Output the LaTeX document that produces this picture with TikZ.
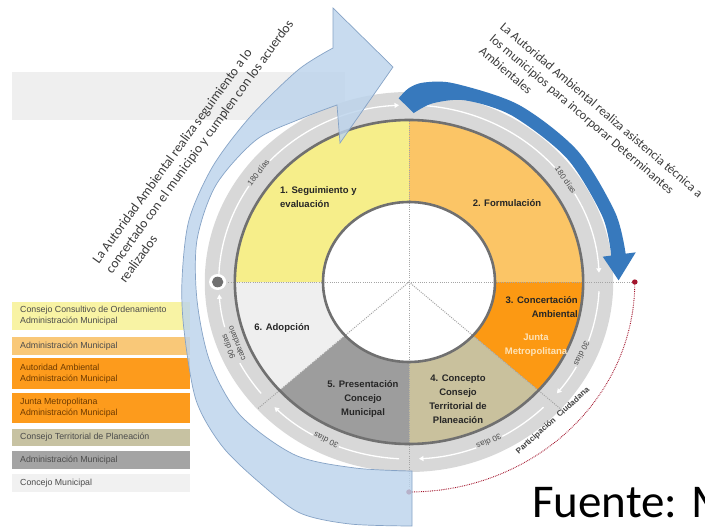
\documentclass[tikz,border=0pt]{standalone}
\usepackage{fontspec}
\setmainfont{Liberation Sans}
\newfontfamily\calfont{Carlito}
\usetikzlibrary{arrows.meta}
\definecolor{bandgray}{HTML}{D8D8D8}
\definecolor{ringline}{HTML}{707070}
\definecolor{dotgray}{HTML}{A5A5A5}
\definecolor{segA}{HTML}{F6EE8A}
\definecolor{segB}{HTML}{FBC566}
\definecolor{segC}{HTML}{FC9913}
\definecolor{segD}{HTML}{C9C19D}
\definecolor{segE}{HTML}{9D9D9D}
\definecolor{segF}{HTML}{EFEFEF}
\definecolor{legA}{HTML}{F8F3A4}
\definecolor{legB}{HTML}{F9C878}
\definecolor{legC}{HTML}{FD9B1C}
\definecolor{legE}{HTML}{C7C2A2}
\definecolor{legF}{HTML}{A4A4A4}
\definecolor{legG}{HTML}{F1F1F1}
\definecolor{topgray}{HTML}{EFEFEF}
\definecolor{paleblue}{HTML}{BCD4EC}
\definecolor{paleedge}{HTML}{86A3C6}
\definecolor{deepblue}{HTML}{3779BD}
\definecolor{dotred}{HTML}{A3142C}
\definecolor{txtgray}{HTML}{3C3C3C}
\definecolor{legtext}{HTML}{4B4B4B}
\definecolor{legdark}{HTML}{6E3A00}
\definecolor{juntatxt}{HTML}{FDE3B8}
\tikzset{>=stealth,
  phase/.style={font=\bfseries\fontsize{9.5}{14}\selectfont, text=black!85, align=center, inner sep=0pt},
  days/.style={font=\fontsize{8}{9}\selectfont, text=black!70, fill=bandgray, inner sep=1pt, align=center},
  legtxt/.style={font=\fontsize{8.8}{11}\selectfont, align=left, inner sep=0pt, anchor=west},
  sidetxt/.style={font=\calfont\fontsize{13.5}{16.5}\selectfont, text=txtgray, align=left, inner sep=0pt, anchor=north west},
  wline/.style={white, line width=1.3pt, -{Triangle[length=4.5pt,width=5pt]}},
  dotln/.style={dotgray, line width=1pt, dash pattern=on 1pt off 1.2pt}
}

\begin{document}
\begin{tikzpicture}[x=1pt,y=1pt]
\useasboundingbox (0,0) rectangle (705,-532);
\fill[white] (0,0) rectangle (705,-532);
\fill[topgray] (12,-72) rectangle (345,-120);

\foreach \yt/\yb/\col/\tc/\txt [count=\i] in {
  302/330/legA/legtext/Consejo Consultivo de Ordenamiento\\Administración Municipal,
  337/355/legB/legtext/Administración Municipal,
  358/389/legC/legdark/Autoridad Ambiental\\Administración Municipal,
  393/423/legC/legdark/Junta Metropolitana\\Administración Municipal,
  429/446/legE/legtext/Consejo Territorial de Planeación,
  451/469/legF/legtext/Administración Municipal,
  474/492/legG/legtext/Concejo Municipal}
{
  \fill[\col] (12,-\yt) rectangle (190,-\yb);
  \node[legtxt, text=\tc] (leg\i) at (20,{-(\yt+\yb)/2}) {\txt};
}

\begin{scope}[shift={(409,-282)}, xscale=1.075]
  \fill[bandgray] (0,0) circle (190);
  \foreach \a/\b/\col in {90/180/segA, 0/90/segB, -42/0/segC, -90/-42/segD, -138/-90/segE, -180/-138/segF}
    \fill[\col] (0,0) -- (\a:162) arc[start angle=\a, end angle=\b, radius=162] -- cycle;
  \foreach \a/\b in {178/93, 87/3, -3/-39, -45/-87, -93/-135, -141/-176}
    \draw[wline] (\a:177) arc[start angle=\a, end angle=\b, radius=177];
  \fill[white] (0,0) circle (80);
  \draw[dotln] (180:168) -- (0:210);
  \draw[dotln] (90:163) -- (-90:208);
  \draw[dotln] (0,0) -- (-42:190);
  \draw[dotln] (0,0) -- (-138:190);
  \draw[ringline, line width=2.6pt] (0,0) circle (162);
  \draw[ringline, line width=2.6pt] (0,0) circle (80);
  \fill[white] (180:178) circle (8);
  \fill[ringline] (180:178) circle (5.3);

  \node[days, rotate=52] (d1) at (142:178) {180 días};
  \node[days, rotate=-55] (d2) at (35:178) {180 días};
  \node[days, rotate=-115] (d3) at (-24:176) {30 días};
  \node[days, rotate=-155] (d4) at (-65:176) {30 días};
  \node[days, rotate=154] (d5) at (-116:176) {30 días};
  \node[days, rotate=111] (d6) at (-159:176) {90 días\\calendario};

  \coordinate (pcA) at (0:210);
  \coordinate (pcB) at (-90:210);
  \draw[dotred, line width=0.9pt, dash pattern=on 0.8pt off 1pt] (pcA) arc[start angle=0, end angle=-90, radius=210];
  \fill[dotred] (pcA) circle (2.6);
  \fill[dotred] (pcB) circle (2.6);

  \fill[deepblue] plot[smooth] coordinates {(93:184) (90:194) (86:200) (78:203) (60:204.5) (40:204.5) (20:204) (8:203.5)}
    -- (8:213) -- (0.5:195) -- (8:182) -- (8:190)
    -- plot[smooth] coordinates {(8:190) (20:191.5) (40:192) (60:192) (74:189) (83:180) (88.5:169)} -- cycle;
\end{scope}

\node[phase, align=left, anchor=west] (p1) at (280,-197) {1. Seguimiento y\\evaluación};
\node[phase] (p2) at (507,-203) {2. Formulación};
\node[phase, align=right, anchor=east] (p3) at (578,-307) {3. Concertación\\Ambiental};
\node[phase, text=juntatxt] (p3b) at (536,-345) {Junta\\Metropolitana};
\node[phase] (p4) at (458,-399) {4. Concepto\\Consejo\\Territorial de\\Planeación};
\node[phase] (p5) at (363,-399) {5. Presentación\\Concejo\\Municipal};
\node[phase] (p6) at (282,-328) {6. Adopción};

\node[font=\bfseries\fontsize{8}{9}\selectfont, text=black!75, rotate=42, inner sep=0pt] (pc) at (553,-421) {Participación\ \ Ciudadana};

\filldraw[fill=paleblue, fill opacity=0.82, draw=paleedge, line width=0.7pt]
  plot[smooth] coordinates {(412,-526) (350,-524) (300,-513) (260,-483) (222,-446) (196,-400) (184,-330) (182,-280) (189,-220) (213,-166) (250,-117) (298,-70) (333,-48)}
  -- (333,-8) -- (393,-67) -- (340,-143) -- (337,-105)
  -- plot[smooth] coordinates {(337,-105) (300,-119) (256,-140) (216,-185) (197,-240) (197,-300) (210,-362) (240,-415) (295,-455) (355,-468) (412,-471)} -- cycle;

\node[sidetxt, rotate=54] (ltxt) at (91,-259) {La Autoridad Ambiental realiza seguimiento a lo\\concertado con el municipio y cumplen con los acuerdos\\realizados};
\node[sidetxt, rotate=-40.5, font=\calfont\fontsize{12.8}{16}\selectfont] (rtxt) at (505,-21) {La Autoridad Ambiental realiza asistencia técnica a\\los municipios para incorporar Determinantes\\Ambientales};

\node[anchor=base west, font=\calfont\fontsize{47}{56}\selectfont, inner sep=0pt] (src) at (532,-517) {Fuente: M};
\end{tikzpicture}
\end{document}
